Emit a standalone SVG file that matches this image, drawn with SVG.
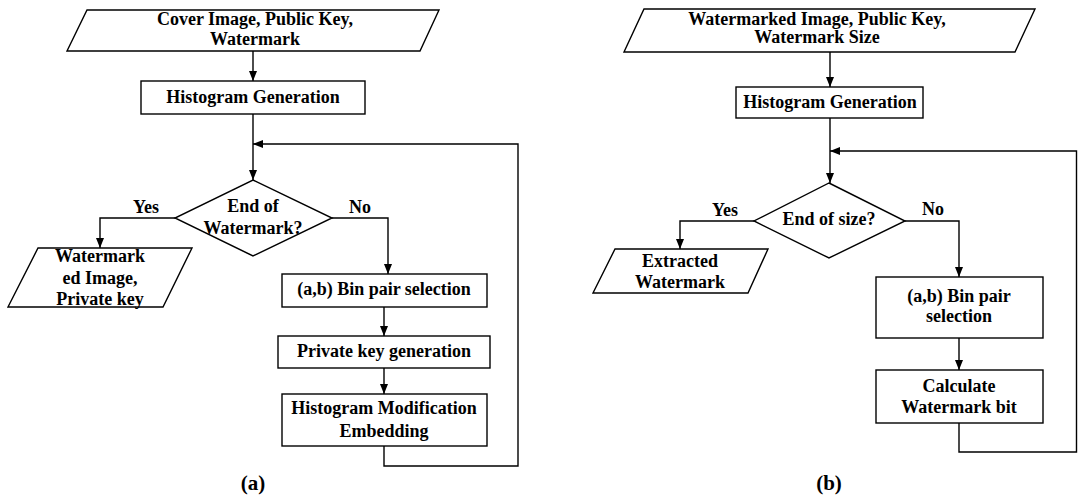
<svg xmlns="http://www.w3.org/2000/svg" width="1078" height="500" viewBox="0 0 1078 500">
<style>
.s{fill:#fff;stroke:#000;stroke-width:1.4}
.c{fill:none;stroke:#000;stroke-width:1.4}
text{font-family:"Liberation Serif","Times New Roman",serif;font-weight:bold;font-size:18px;fill:#000;text-anchor:middle}
.cap{font-size:21px}
</style>
<defs>
<marker id="ah" markerUnits="userSpaceOnUse" markerWidth="10" markerHeight="8" refX="10" refY="4" orient="auto">
<path d="M0,0 L10,4 L0,8 z" fill="#000"/>
</marker>
</defs>
<rect width="1078" height="500" fill="#fff"/>
<g id="connectors">
<line class="c" x1="253" y1="51" x2="253" y2="81" marker-end="url(#ah)"/>
<line class="c" x1="253" y1="114" x2="253" y2="180" marker-end="url(#ah)"/>
<polyline class="c" points="384,446 384,466 518,466 518,144 253,144" marker-end="url(#ah)"/>
<polyline class="c" points="175,218 100,218 100,248" marker-end="url(#ah)"/>
<polyline class="c" points="332,218 388,218 388,274" marker-end="url(#ah)"/>
<line class="c" x1="384" y1="307" x2="384" y2="336" marker-end="url(#ah)"/>
<line class="c" x1="384" y1="368" x2="384" y2="394" marker-end="url(#ah)"/>
<line class="c" x1="830" y1="52" x2="830" y2="87" marker-end="url(#ah)"/>
<line class="c" x1="830" y1="118" x2="830" y2="183" marker-end="url(#ah)"/>
<polyline class="c" points="959,423 959,452 1076.5,452 1076.5,151 830,151" marker-end="url(#ah)"/>
<polyline class="c" points="754,221 680,221 680,249" marker-end="url(#ah)"/>
<polyline class="c" points="905,221 959,221 959,277" marker-end="url(#ah)"/>
<line class="c" x1="959" y1="338" x2="959" y2="370" marker-end="url(#ah)"/>
</g>
<g id="a-input">
<polygon class="s" points="87,10 439,10 420,51 67,51"/>
<text x="255" y="25">Cover Image, Public Key,</text>
<text x="255" y="45">Watermark</text>
</g>
<g id="a-hist">
<rect class="s" x="141" y="81" width="224" height="33"/>
<text x="253" y="103">Histogram Generation</text>
</g>
<g id="a-decision">
<polygon class="s" points="253,180 332,218 253,256 175,218"/>
<text x="253" y="212">End of</text>
<text x="253" y="234">Watermark?</text>
</g>
<g id="a-yes"><text x="146" y="213">Yes</text></g>
<g id="a-no"><text x="360" y="213">No</text></g>
<g id="a-output">
<polygon class="s" points="38,248 192,248 163,307 8,307"/>
<text x="100" y="262">Watermark</text>
<text x="100" y="284">ed Image,</text>
<text x="100" y="305">Private key</text>
</g>
<g id="a-bin">
<rect class="s" x="282" y="274" width="205" height="33"/>
<text x="384" y="295">(a,b) Bin pair selection</text>
</g>
<g id="a-key">
<rect class="s" x="278" y="336" width="212" height="32"/>
<text x="384" y="357">Private key generation</text>
</g>
<g id="a-hme">
<rect class="s" x="282" y="394" width="205" height="52"/>
<text x="384" y="414">Histogram Modification</text>
<text x="384" y="437">Embedding</text>
</g>
<g id="a-caption"><text class="cap" x="253" y="490">(a)</text></g>
<g id="b-input">
<polygon class="s" points="644,9 1035,9 1015,52 624,52"/>
<text x="817" y="25">Watermarked Image, Public Key,</text>
<text x="817" y="43">Watermark Size</text>
</g>
<g id="b-hist">
<rect class="s" x="736" y="87" width="187" height="31"/>
<text x="830" y="108">Histogram Generation</text>
</g>
<g id="b-decision">
<polygon class="s" points="829,183 905,221 829,258 754,221"/>
<text x="829" y="225">End of size?</text>
</g>
<g id="b-yes"><text x="725" y="216">Yes</text></g>
<g id="b-no"><text x="933" y="215">No</text></g>
<g id="b-output">
<polygon class="s" points="615,249 768,249 748,293 593,293"/>
<text x="680" y="267">Extracted</text>
<text x="680" y="288">Watermark</text>
</g>
<g id="b-bin">
<rect class="s" x="876" y="277" width="167" height="61"/>
<text x="959" y="302">(a,b) Bin pair</text>
<text x="959" y="322">selection</text>
</g>
<g id="b-calc">
<rect class="s" x="876" y="370" width="167" height="53"/>
<text x="959" y="392">Calculate</text>
<text x="959" y="413">Watermark bit</text>
</g>
<g id="b-caption"><text class="cap" x="829" y="490">(b)</text></g>
</svg>
